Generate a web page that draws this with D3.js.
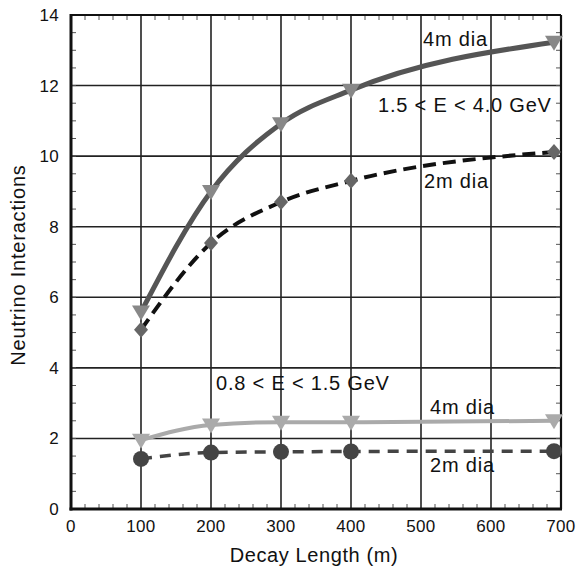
<!DOCTYPE html>
<html>
<head>
<meta charset="utf-8">
<script src="https://cdn.jsdelivr.net/npm/d3@7"></script>
<style>
  body { margin: 0; background: #fff; }
  text { font-family: "Liberation Sans", Arial, sans-serif; fill: #111; }
</style>
</head>
<body>
<div id="chart"></div>
<script>
const width = 576
const height = 569

// data
const decayLength = [100, 200, 300, 400, 690]
const high4m = [5.58, 9.0, 10.92, 11.87, 13.23]
const high2m = [5.08, 7.54, 8.7, 9.3, 10.12]
const low4m = [1.95, 2.38, 2.46, 2.46, 2.5]
const low2m = [1.42, 1.6, 1.62, 1.63, 1.64]

const xTicks = [0, 100, 200, 300, 400, 500, 600, 700]
const yTicks = [0, 2, 4, 6, 8, 10, 12, 14]

const x = d3.scaleLinear().domain([0, 700]).range([71, 561])
const y = d3.scaleLinear().domain([0, 14]).range([509, 15])

const svg = d3.select('#chart').append('svg')
    .attr('width', width)
    .attr('height', height)

// grid
svg.append('g')
    .selectAll('line')
    .data(xTicks.slice(1, -1))
    .enter()
    .append('line')
    .attr('x1', d => x(d)).attr('x2', d => x(d))
    .attr('y1', y(0)).attr('y2', y(14))
    .attr('stroke', '#222').attr('stroke-width', 1.6)

svg.append('g')
    .selectAll('line')
    .data(yTicks.slice(1, -1))
    .enter()
    .append('line')
    .attr('y1', d => y(d)).attr('y2', d => y(d))
    .attr('x1', x(0)).attr('x2', x(700))
    .attr('stroke', '#222').attr('stroke-width', 1.6)

// minor ticks inside the frame
const xMinor = d3.range(0, 701, 20)
const yMinor = d3.range(0, 14.01, 0.5)
const minor = svg.append('g').attr('stroke', '#555').attr('stroke-width', 1)
minor.selectAll('.xb').data(xMinor).enter().append('line')
    .attr('x1', d => x(d)).attr('x2', d => x(d))
    .attr('y1', y(0)).attr('y2', y(0) - 5)
minor.selectAll('.xt').data(xMinor).enter().append('line')
    .attr('x1', d => x(d)).attr('x2', d => x(d))
    .attr('y1', y(14)).attr('y2', y(14) + 5)
minor.selectAll('.yl').data(yMinor).enter().append('line')
    .attr('y1', d => y(d)).attr('y2', d => y(d))
    .attr('x1', x(0)).attr('x2', x(0) + 5)
minor.selectAll('.yr').data(yMinor).enter().append('line')
    .attr('y1', d => y(d)).attr('y2', d => y(d))
    .attr('x1', x(700)).attr('x2', x(700) - 5)

// frame
svg.append('line').attr('x1', x(0)).attr('x2', x(700)).attr('y1', y(14)).attr('y2', y(14))
    .attr('stroke', '#111').attr('stroke-width', 2.2)
svg.append('line').attr('x1', x(700)).attr('x2', x(700)).attr('y1', y(0)).attr('y2', y(14))
    .attr('stroke', '#111').attr('stroke-width', 2.2)
svg.append('line').attr('x1', x(0)).attr('x2', x(0)).attr('y1', y(0) + 1.5).attr('y2', y(14) - 1)
    .attr('stroke', '#111').attr('stroke-width', 3)
svg.append('line').attr('x1', x(0) - 1.5).attr('x2', x(700) + 1).attr('y1', y(0)).attr('y2', y(0))
    .attr('stroke', '#111').attr('stroke-width', 3)

// tick labels
svg.append('g')
    .selectAll('text')
    .data(xTicks)
    .enter()
    .append('text')
    .attr('x', d => x(d))
    .attr('y', 532)
    .attr('text-anchor', 'middle')
    .attr('font-size', 17)
    .attr('letter-spacing', 0.3)
    .text(d => d)

svg.append('g')
    .selectAll('text')
    .data(yTicks)
    .enter()
    .append('text')
    .attr('x', 59)
    .attr('y', d => y(d))
    .attr('dy', '0.35em')
    .attr('text-anchor', 'end')
    .attr('font-size', 17)
    .attr('letter-spacing', 0.3)
    .text(d => d)

// axis titles
svg.append('text')
    .attr('x', 314)
    .attr('y', 562)
    .attr('text-anchor', 'middle')
    .attr('font-size', 20)
    .attr('letter-spacing', 0.6)
    .text('Decay Length (m)')

svg.append('text')
    .attr('transform', 'translate(25,265) rotate(-90)')
    .attr('text-anchor', 'middle')
    .attr('font-size', 20)
    .attr('letter-spacing', 0.8)
    .text('Neutrino Interactions')

// series
const series = [
    { values: high2m, stroke: '#111', width: 4, dash: '13,7', marker: 'diamond', fill: '#666' },
    { values: high4m, stroke: '#555', width: 5, dash: null, marker: 'triangle', fill: '#888' },
    { values: low2m, stroke: '#444', width: 3.5, dash: '11,8', marker: 'circle', fill: '#444' },
    { values: low4m, stroke: '#aaa', width: 4, dash: null, marker: 'triangle', fill: '#aaa' }
]

const line = d3.line()
    .x(d => x(d[0]))
    .y(d => y(d[1]))
    .curve(d3.curveMonotoneX)

series.forEach(s => {
    const pts = decayLength.map((d, i) => [d, s.values[i]])
    svg.append('path')
        .datum(pts)
        .attr('d', line)
        .attr('fill', 'none')
        .attr('stroke', s.stroke)
        .attr('stroke-width', s.width)
        .attr('stroke-dasharray', s.dash)
})

const symbols = {
    diamond: 'M0,-8L7,0L0,8L-7,0Z',
    triangle: 'M-9,-6.5L9,-6.5L0,8.5Z'
}

series.forEach(s => {
    const g = svg.append('g')
    const pts = decayLength.map((d, i) => [d, s.values[i]])
    if (s.marker === 'circle') {
        g.selectAll('circle').data(pts).enter().append('circle')
            .attr('cx', d => x(d[0]))
            .attr('cy', d => y(d[1]))
            .attr('r', 8)
            .attr('fill', s.fill)
    } else {
        g.selectAll('path').data(pts).enter().append('path')
            .attr('transform', d => 'translate(' + x(d[0]) + ',' + y(d[1]) + ')')
            .attr('d', symbols[s.marker])
            .attr('fill', s.fill)
    }
})

// annotations
const notes = [
    { text: '4m dia', x: 423, y: 46 },
    { text: '1.5 < E < 4.0 GeV', x: 378, y: 112 },
    { text: '2m dia', x: 424, y: 188 },
    { text: '0.8 < E < 1.5 GeV', x: 216, y: 390 },
    { text: '4m dia', x: 430, y: 414 },
    { text: '2m dia', x: 430, y: 472 }
]
svg.append('g')
    .selectAll('text')
    .data(notes)
    .enter()
    .append('text')
    .attr('x', d => d.x)
    .attr('y', d => d.y)
    .attr('font-size', 20)
    .attr('letter-spacing', 0.8)
    .text(d => d.text)
</script>
</body>
</html>
